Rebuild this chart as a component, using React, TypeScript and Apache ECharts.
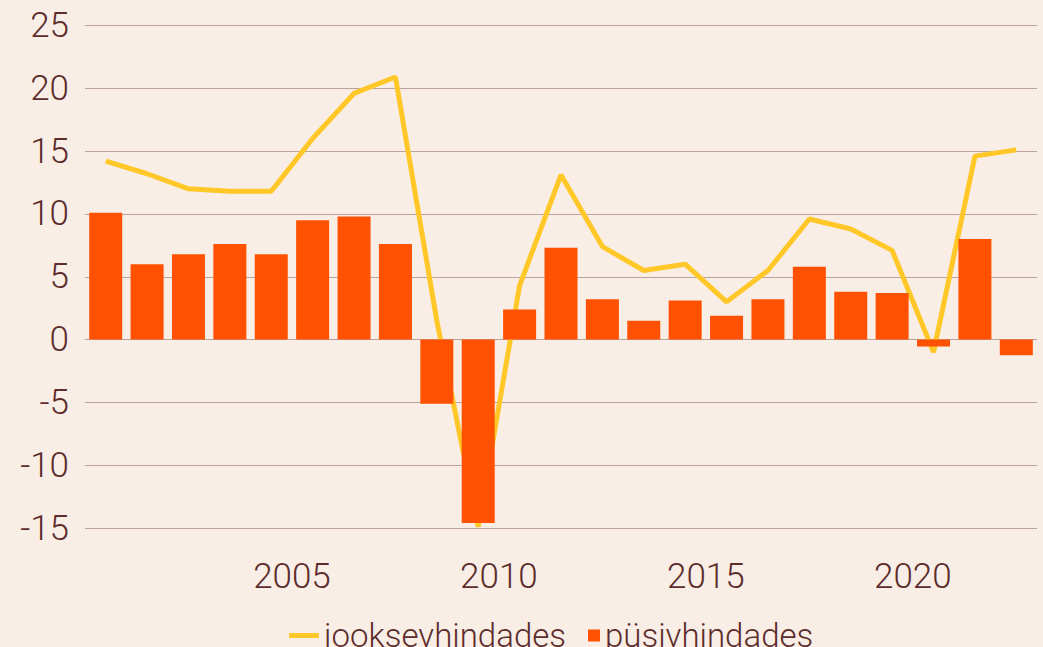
import React, { useEffect, useRef } from "react";
import * as echarts from "echarts";

const years = [2000, 2001, 2002, 2003, 2004, 2005, 2006, 2007, 2008, 2009, 2010, 2011, 2012, 2013, 2014, 2015, 2016, 2017, 2018, 2019, 2020, 2021, 2022];
const currentPrices = [14.2, 13.2, 12.0, 11.8, 11.8, 16.0, 19.6, 20.9, 1.5, -14.9, 4.3, 13.1, 7.4, 5.5, 6.0, 3.0, 5.5, 9.6, 8.8, 7.1, -1.0, 14.6, 15.1];
const constantPrices = [10.1, 6.0, 6.8, 7.6, 6.8, 9.5, 9.8, 7.6, -5.1, -14.6, 2.4, 7.3, 3.2, 1.5, 3.1, 1.9, 3.2, 5.8, 3.8, 3.7, -0.55, 8.0, -1.25];
const seriesNames = ["jooksevhindades", "püsivhindades"];
const yTicks = { min: -15, max: 25, interval: 5 };

const TEXT = "#5C2C2C";
const FONT = "Roboto";
const LINE = "#FFC727";
const BAR = "#FF5100";

export default function App() {
  const ref = useRef<HTMLDivElement>(null);
  useEffect(() => {
    if (!ref.current) return;
    const chart = echarts.init(ref.current, undefined, { renderer: "svg" });
    const legendText = { fontSize: 33, fontWeight: 300, fontFamily: FONT, color: TEXT, lineHeight: 35 };
    chart.setOption({
      animation: false,
      backgroundColor: "#F9EEE5",
      textStyle: { fontFamily: FONT, color: TEXT },
      grid: { left: 85, right: 6, top: 25.5, bottom: 119, containLabel: false },
      xAxis: {
        type: "value",
        min: 2000,
        max: 2023,
        interval: 5,
        axisLine: { show: false },
        axisTick: { show: false },
        splitLine: { show: false },
        axisLabel: {
          showMinLabel: false,
          showMaxLabel: false,
          margin: 31,
          fontSize: 35,
          fontWeight: 300,
          fontFamily: FONT,
          color: TEXT,
          formatter: (v: number) => (v % 5 === 0 && v !== 2000 ? String(v) : ""),
        },
      },
      yAxis: {
        type: "value",
        min: yTicks.min,
        max: yTicks.max,
        interval: yTicks.interval,
        axisLine: { show: false },
        axisTick: { show: false },
        splitLine: { show: true, lineStyle: { color: "#BBA29C", width: 1 } },
        axisLabel: {
          margin: 16,
          fontSize: 35,
          fontWeight: 300,
          fontFamily: FONT,
          color: TEXT,
        },
      },
      legend: [
        {
          data: [{ name: seriesNames[0], icon: "path://M0 0H30V5H0Z" }],
          left: 284,
          top: 613,
          itemWidth: 30,
          itemHeight: 5,
          textStyle: legendText,
        },
        {
          data: [{ name: seriesNames[1], icon: "rect" }],
          left: 583,
          top: 613,
          itemWidth: 12,
          itemHeight: 12,
          textStyle: legendText,
        },
      ],
      series: [
        {
          name: seriesNames[0],
          type: "line",
          data: years.map((y, i) => [y + 0.5, currentPrices[i]]),
          symbol: "none",
          showSymbol: false,
          lineStyle: { color: LINE, width: 5 },
          itemStyle: { color: LINE },
          z: 1,
        },
        {
          name: seriesNames[1],
          type: "bar",
          data: years.map((y, i) => [y + 0.5, constantPrices[i]]),
          barWidth: 33,
          itemStyle: { color: BAR },
          z: 2,
        },
      ],
    });
    return () => chart.dispose();
  }, []);
  return (
    <div
      ref={ref}
      style={{ position: "absolute", left: 0, top: 0, width: 1043, height: 647 }}
    />
  );
}
